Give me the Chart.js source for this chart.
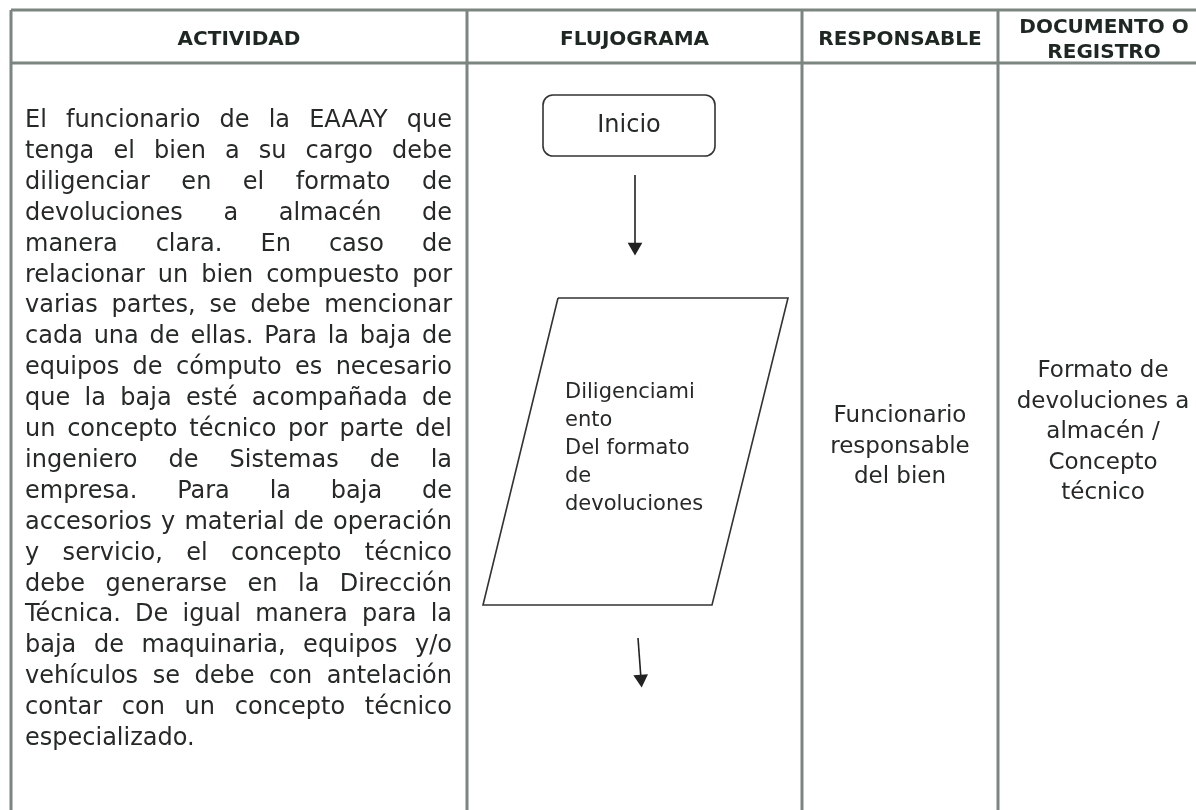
<!DOCTYPE html>
<html>
<head>
<meta charset="utf-8">
<script src="https://cdn.jsdelivr.net/npm/chart.js@4.4.1/dist/chart.umd.min.js"></script>
<style>
  html, body { margin: 0; padding: 0; background: #fff; }
  #wrap { width: 1196px; height: 810px; }
</style>
</head>
<body>
<div id="wrap"><canvas id="sheet" width="1196" height="810"></canvas></div>
<script>
// table content
const headers = [["ACTIVIDAD"], ["FLUJOGRAMA"], ["RESPONSABLE"], ["DOCUMENTO O", "REGISTRO"]];
const activityLines = [
    "El funcionario de la EAAAY que",
    "tenga el bien a su cargo debe",
    "diligenciar en el formato de",
    "devoluciones a almacén de",
    "manera clara. En caso de",
    "relacionar un bien compuesto por",
    "varias partes, se debe mencionar",
    "cada una de ellas. Para la baja de",
    "equipos de cómputo es necesario",
    "que la baja esté acompañada de",
    "un concepto técnico por parte del",
    "ingeniero de Sistemas de la",
    "empresa. Para la baja de",
    "accesorios y material de operación",
    "y servicio, el concepto técnico",
    "debe generarse en la Dirección",
    "Técnica. De igual manera para la",
    "baja de maquinaria, equipos y/o",
    "vehículos  se debe con antelación",
    "contar con un concepto técnico",
    "especializado."
];
const startLabel = "Inicio";
const stepLines = ["Diligenciami", "ento", "Del formato", "de", "devoluciones"];
const responsibleLines = ["Funcionario", "responsable", "del bien"];
const documentLines = ["Formato de", "devoluciones a", "almacén /", "Concepto", "técnico"];

// page layout, in sheet units (1 unit = 1 px)
const colEdges = [11, 467, 802, 998, 1210];
const rowEdges = [10, 63];
const tableBottom = 812;
const startBox = { x0: 543, x1: 715, y0: 95, y1: 156, r: 10 };
const stepShape = [[558, 298], [788, 298], [712, 605], [483, 605], [558, 298]];
const arrows = [
    { from: [635, 175], to: [635, 247], rot: 180 },
    { from: [638, 638], to: [641, 679], rot: 175.5 }
];

const FONT = '"DejaVu Sans", Verdana, sans-serif';
const gridColor = '#7c8681';
const inkColor = '#262a27';

const gridSets = [];
rowEdges.forEach(y => gridSets.push([{ x: colEdges[0], y: y }, { x: colEdges[colEdges.length - 1], y: y }]));
colEdges.forEach(x => gridSets.push([{ x: x, y: rowEdges[0] }, { x: x, y: tableBottom }]));

const datasets = [];
gridSets.forEach(pts => datasets.push({
    data: pts, showLine: true, borderColor: gridColor, borderWidth: 3, pointRadius: 0
}));
datasets.push({
    data: stepShape.map(p => ({ x: p[0], y: p[1] })),
    showLine: true, borderColor: '#333', borderWidth: 1.6, pointRadius: 0
});
arrows.forEach(a => datasets.push({
    data: [{ x: a.from[0], y: a.from[1] }, { x: a.to[0], y: a.to[1] }],
    showLine: true, borderColor: '#222', borderWidth: 1.6,
    pointRadius: [0, 8.5], pointStyle: 'triangle', rotation: a.rot,
    pointBackgroundColor: '#222', pointBorderColor: '#222', pointBorderWidth: 0
}));

function drawJustified(ctx, text, left, right, y, justify) {
    const words = text.split(/\s+/);
    const widths = words.map(w => ctx.measureText(w).width);
    const total = widths.reduce((a, b) => a + b, 0);
    const gap = (justify && words.length > 1) ? (right - left - total) / (words.length - 1) : ctx.measureText(' ').width;
    let x = left;
    words.forEach((w, i) => { ctx.fillText(w, x, y); x += widths[i] + gap; });
}

const textPlugin = {
    id: 'sheetText',
    afterDatasetsDraw(chart) {
        const ctx = chart.ctx;
        const sx = v => chart.scales.x.getPixelForValue(v);
        const sy = v => chart.scales.y.getPixelForValue(v);
        ctx.save();

        // start box
        ctx.strokeStyle = '#333';
        ctx.lineWidth = 1.6;
        ctx.beginPath();
        ctx.roundRect(sx(startBox.x0), sy(startBox.y0), sx(startBox.x1) - sx(startBox.x0), sy(startBox.y1) - sy(startBox.y0), startBox.r);
        ctx.stroke();

        // headers
        ctx.fillStyle = '#1f2722';
        ctx.font = 'bold 20px ' + FONT;
        ctx.textAlign = 'center';
        ctx.textBaseline = 'alphabetic';
        headers.forEach((lines, i) => {
            const cx = sx((colEdges[i] + colEdges[i + 1]) / 2);
            const base = lines.length === 1 ? 45 : 33;
            lines.forEach((t, j) => ctx.fillText(t, cx, sy(base + j * 25)));
        });

        // activity text, justified
        ctx.fillStyle = inkColor;
        ctx.font = '24px ' + FONT;
        ctx.textAlign = 'left';
        activityLines.forEach((t, i) => {
            drawJustified(ctx, t, sx(25), sx(452), sy(127 + i * 30.9), i < activityLines.length - 1);
        });

        // flow chart labels
        ctx.font = '24px ' + FONT;
        ctx.textAlign = 'center';
        ctx.fillText(startLabel, sx((startBox.x0 + startBox.x1) / 2), sy(132));
        ctx.font = '21px ' + FONT;
        ctx.textAlign = 'left';
        stepLines.forEach((t, i) => ctx.fillText(t, sx(565), sy(398 + i * 28)));

        // responsible and document columns
        ctx.font = '23px ' + FONT;
        ctx.textAlign = 'center';
        responsibleLines.forEach((t, i) => ctx.fillText(t, sx(900), sy(422 + i * 30.5)));
        documentLines.forEach((t, i) => ctx.fillText(t, sx(1103), sy(377 + i * 30.5)));

        ctx.restore();
    }
};

new Chart(document.getElementById('sheet'), {
    type: 'scatter',
    data: { datasets: datasets },
    options: {
        responsive: false,
        animation: false,
        events: [],
        layout: { padding: 0, autoPadding: false },
        scales: {
            x: { type: 'linear', min: 0, max: 1196, display: false },
            y: { type: 'linear', min: 0, max: 810, reverse: true, display: false }
        },
        plugins: { legend: { display: false }, tooltip: { enabled: false } }
    },
    plugins: [textPlugin]
});
</script>
</body>
</html>
